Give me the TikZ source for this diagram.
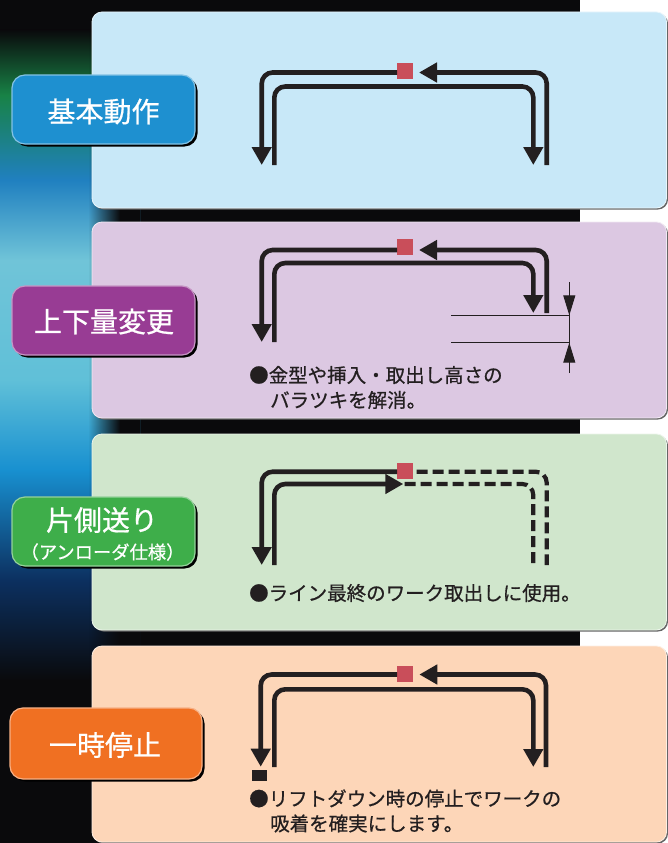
\documentclass[tikz,border=0pt]{standalone}
\usepackage{fontspec}
\setmainfont{Noto Sans CJK JP}
\newfontfamily\medfont[FakeBold=0.7]{Noto Sans CJK JP}
\usetikzlibrary{arrows.meta,fadings}
\definecolor{lk}{RGB}{35,31,32}
\definecolor{rsq}{RGB}{201,78,90}
\definecolor{bgk}{RGB}{10,10,12}
\definecolor{pa}{RGB}{200,232,248}
\definecolor{pb}{RGB}{220,200,226}
\definecolor{pc}{RGB}{208,230,204}
\definecolor{pd}{RGB}{253,214,184}
\definecolor{la}{RGB}{30,144,208}
\definecolor{lb}{RGB}{152,60,148}
\definecolor{lc}{RGB}{62,174,74}
\definecolor{ld}{RGB}{240,112,34}
\tikzset{
  panel/.style={fill=#1, draw=white!60!#1, line width=0.8pt, rounded corners=10pt},
  pshadow/.style={fill=black!60, rounded corners=10pt},
  lbox/.style={fill=#1, draw=white!45!#1, line width=1.2pt, rounded corners=13pt},
  lshadow/.style={fill=black, rounded corners=13pt},
  lbl/.style={text=white, inner sep=0pt, font=\medfont\fontsize{28}{30}\selectfont},
  lbls/.style={text=white, inner sep=0pt, font=\medfont\fontsize{18.3}{20}\selectfont},
  note/.style={text=lk, inner sep=0pt, anchor=west, font=\medfont\fontsize{19.5}{22}\selectfont},
  flow/.style={draw=lk, line width=4.6pt, rounded corners=11pt},
  dflow/.style={draw=lk, line width=4.2pt, rounded corners=11pt, dash pattern=on 11pt off 5pt},
  tip/.style={-{Triangle[length=18pt,width=19pt]}},
  redsq/.style={fill=rsq, inner sep=0pt, minimum width=15.5pt, minimum height=15.5pt},
  blksq/.style={fill=lk, inner sep=0pt, minimum width=15.6pt, minimum height=10.7pt},
  dimline/.style={draw=lk, line width=1pt},
  dimtip/.style={-{Triangle[length=20pt,width=12pt]}}
}
\begin{document}
\begin{tikzpicture}[x=1pt,y=-1pt]
\useasboundingbox (0,0) rectangle (668,843);
\fill[white] (0,0) rectangle (668,843);
% ---- background ----
\fill[bgk] (0,0) rectangle (580,843);
\shade[top color=bgk, bottom color=bgk] (0,0) rectangle (140,30);
\shade[top color=bgk, bottom color={rgb,255:red,24;green,130;blue,70}] (0,30) rectangle (140,95);
\shade[top color={rgb,255:red,24;green,130;blue,70}, bottom color={rgb,255:red,32;green,128;blue,192}] (0,95) rectangle (140,180);
\shade[top color={rgb,255:red,32;green,128;blue,192}, bottom color={rgb,255:red,112;green,196;blue,216}] (0,180) rectangle (140,260);
\shade[top color={rgb,255:red,112;green,196;blue,216}, bottom color={rgb,255:red,96;green,192;blue,216}] (0,260) rectangle (140,380);
\shade[top color={rgb,255:red,96;green,192;blue,216}, bottom color={rgb,255:red,24;green,144;blue,208}] (0,380) rectangle (140,470);
\shade[top color={rgb,255:red,24;green,144;blue,208}, bottom color={rgb,255:red,12;green,48;blue,96}] (0,470) rectangle (140,580);
\shade[top color={rgb,255:red,12;green,48;blue,96}, bottom color=bgk] (0,580) rectangle (140,680);
\fill[bgk] (0,680) rectangle (140,843);
\fill[bgk, path fading=west] (88,0) rectangle (120,843);
\fill[bgk] (120,0) rectangle (140,843);
% ---- panels ----
\fill[pshadow] (93.5,13.5) rectangle (668,209.5);
\path[panel=pa] (92,12) rectangle (666.5,208);
\fill[pshadow] (93.5,223.5) rectangle (668,419.5);
\path[panel=pb] (92,222) rectangle (666.5,418);
\fill[pshadow] (93.5,435.5) rectangle (668,631.5);
\path[panel=pc] (92,434) rectangle (666.5,630);
\fill[pshadow] (93.5,647.5) rectangle (668,843.5);
\path[panel=pd] (92,646) rectangle (666.5,842);
% ---- labels ----
\fill[lshadow] (14.5,77.5) rectangle (197.5,146.5);
\path[lbox=la] (12,75) rectangle (195,144);
\node[lbl] (ta) at (103.5,111.5) {基本動作};
\fill[lshadow] (14.5,288.5) rectangle (197.5,357.5);
\path[lbox=lb] (12,286) rectangle (195,355);
\node[lbl] (tb) at (104,321.5) {上下量変更};
\fill[lshadow] (14.5,499.5) rectangle (197.5,568.5);
\path[lbox=lc] (12,497) rectangle (195,566);
\node[lbl] (tc) at (102,520) {片側送り};
\node[lbls] (tc2) at (102.5,552) {（アンローダ仕様）};
\fill[lshadow] (12.5,710.5) rectangle (204.5,781.5);
\path[lbox=ld] (10,708) rectangle (202,779);
\node[lbl] (td) at (105,745) {一時停止};
% ---- panel 1 ----
\node[redsq] (r1) at (405,71) {};
\coordinate (a1s) at (546.7,165);
\coordinate (a1e) at (419,72.5);
\draw[flow,tip] (a1s) -- (546.7,72.5) -- (a1e);
\coordinate (b1e) at (261.7,165);
\draw[flow,tip] (r1.west |- a1e) -- (261.7,72.5) -- (b1e);
\coordinate (c1s) at (274.3,165);
\coordinate (c1e) at (533.3,165);
\draw[flow,tip] (c1s) -- (274.3,86.5) -- (533.3,86.5) -- (c1e);
% ---- panel 2 ----
\node[redsq] (r2) at (405,247) {};
\coordinate (a2s) at (546.7,313);
\coordinate (a2e) at (419,250);
\draw[flow,tip] (a2s) -- (546.7,250) -- (a2e);
\coordinate (b2e) at (261.7,342);
\draw[flow,tip] (r2.west |- a2e) -- (261.7,250) -- (b2e);
\coordinate (c2s) at (274.3,342);
\coordinate (c2e) at (533.3,313);
\draw[flow,tip] (c2s) -- (274.3,263) -- (533.3,263) -- (c2e);
\coordinate (h1s) at (451,315.3); \coordinate (h1e) at (570,315.3);
\coordinate (h2s) at (451,342.7); \coordinate (h2e) at (570,342.7);
\draw[dimline] (h1s) -- (h1e);
\draw[dimline] (h2s) -- (h2e);
\coordinate (v1) at (569.3,282); \coordinate (v2) at (569.3,373);
\draw[dimline] (v1) -- (v2);
\draw[dimline,dimtip] (v1) -- (569.3,315.3);
\draw[dimline,dimtip] (v2) -- (569.3,342.7);
\node[note] (n2a) at (249,375) {●金型や挿入・取出し高さの};
\node[note] (n2b) at (270,400) {バラツキを解消。};
% ---- panel 3 ----
\node[redsq] (r3) at (405,470.8) {};
\coordinate (b3e) at (261.7,565);
\draw[flow,tip] (r3.west |- 0,471.7) -- (261.7,471.7) -- (b3e);
\coordinate (c3s) at (274.3,565);
\coordinate (c3e) at (403.3,484);
\draw[flow,tip] (c3s) -- (274.3,484) -- (c3e);
\coordinate (d3s) at (416.5,471.7);
\coordinate (d3e) at (546.7,565);
\draw[dflow] (d3s) -- (546.7,471.7) -- (d3e);
\coordinate (e3s) at (404.5,484);
\coordinate (e3e) at (533.3,565);
\draw[dflow] (e3s) -- (533.3,484) -- (e3e);
\node[note] (n3a) at (249,593) {●ライン最終のワーク取出しに使用。};
% ---- panel 4 ----
\node[redsq] (r4) at (405,673.8) {};
\coordinate (a4s) at (546,767);
\coordinate (a4e) at (419.3,674.5);
\draw[flow,tip] (a4s) -- (546,674.5) -- (a4e);
\coordinate (b4e) at (260.7,766.7);
\draw[flow,tip] (r4.west |- a4e) -- (260.7,674.5) -- (b4e);
\coordinate (c4s) at (274.3,767);
\coordinate (c4e) at (533.3,767);
\draw[flow,tip] (c4s) -- (274.3,689.3) -- (533.3,689.3) -- (c4e);
\node[blksq] (k4) at (259.5,775.3) {};
\node[note] (n4a) at (249,798.5) {●リフトダウン時の停止でワークの};
\node[note] (n4b) at (270,823.5) {吸着を確実にします。};
\end{tikzpicture}
\end{document}
